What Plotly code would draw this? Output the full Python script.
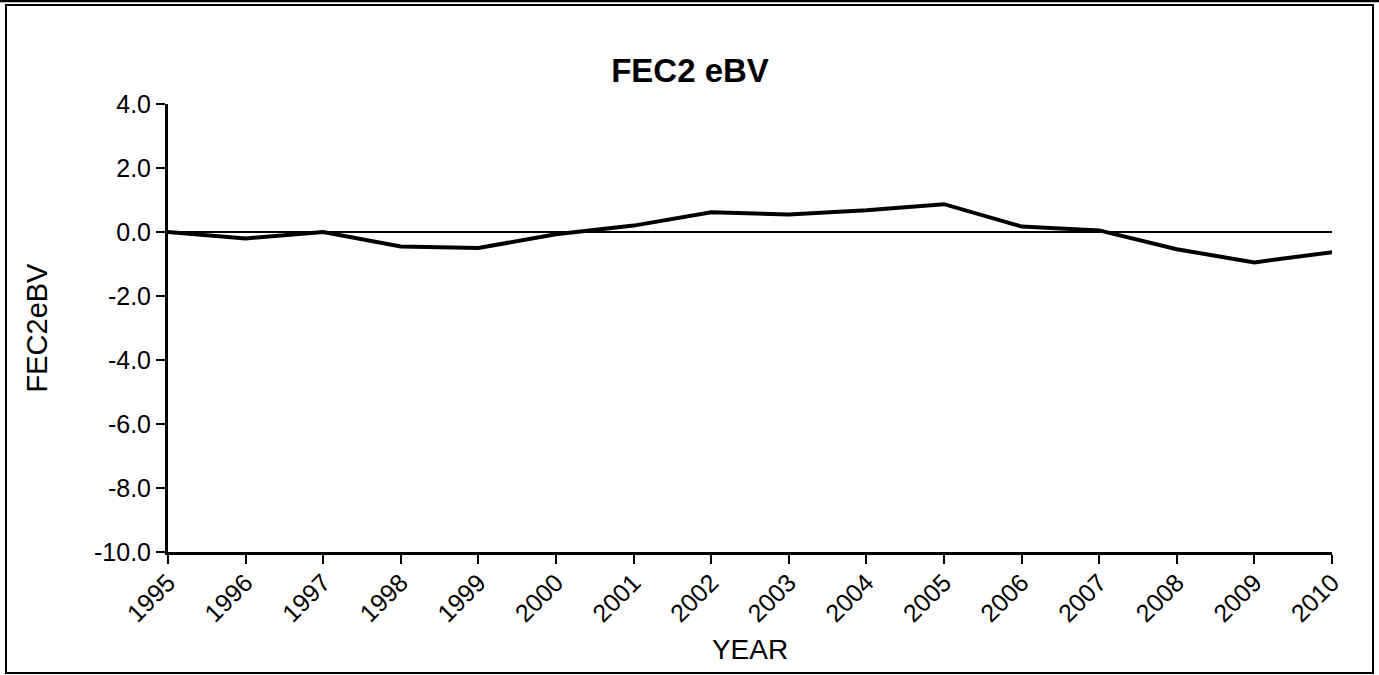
import plotly.graph_objects as go

years = [1995, 1996, 1997, 1998, 1999, 2000, 2001, 2002, 2003, 2004, 2005, 2006, 2007, 2008, 2009, 2010]
fec2_ebv = [0.0, -0.2, 0.0, -0.45, -0.5, -0.07, 0.2, 0.62, 0.55, 0.68, 0.87, 0.17, 0.05, -0.54, -0.95, -0.63]
y_ticks = [4.0, 2.0, 0.0, -2.0, -4.0, -6.0, -8.0, -10.0]

W, H = 1379, 675
L, R, T, B = 168, 47, 104, 123
pw, ph = W - L - R, H - T - B

def px(x):
    return (x - L) / pw

def py(y):
    return 1 - (y - T) / ph

font = "Liberation Sans, Arial, sans-serif"

fig = go.Figure()
fig.add_trace(go.Scatter(
    x=years, y=fec2_ebv, mode="lines",
    line=dict(color="black", width=4), showlegend=False,
))

fig.update_layout(
    width=W, height=H,
    margin=dict(l=L, r=R, t=T, b=B, autoexpand=False),
    paper_bgcolor="white", plot_bgcolor="white",
    font=dict(family=font, color="black", size=25),
    title=dict(text="<b>FEC2 eBV</b>", x=690 / W, xanchor="center",
               y=1 - 70 / H, yanchor="middle", font=dict(size=33)),
    xaxis=dict(
        range=[1995, 2010], tickmode="array", tickvals=years,
        ticktext=[str(y) for y in years], tickangle=-45,
        showgrid=False, zeroline=False, showline=True, linecolor="black",
        linewidth=3, ticks="outside", ticklen=9, tickwidth=1.5, tickcolor="black",
        title=dict(text="YEAR", standoff=14, font=dict(size=28)),
        tickfont=dict(size=25), automargin=False, ticklabelstandoff=-6,
    ),
    yaxis=dict(
        range=[-10, 4], tickmode="array", tickvals=y_ticks,
        ticktext=[f"{v:.1f}" for v in y_ticks],
        showgrid=False, zeroline=True, zerolinecolor="black", zerolinewidth=1.5,
        showline=True, linecolor="black", linewidth=3,
        ticks="outside", ticklen=9, tickwidth=1.5, tickcolor="black",
        title=dict(text="FEC2eBV", standoff=38, font=dict(size=29)),
        tickfont=dict(size=25), automargin=False,
    ),
    shapes=[
        dict(type="line", xref="paper", yref="paper", x0=px(0), x1=px(W), y0=py(1), y1=py(1),
             line=dict(color="black", width=2.5)),
        dict(type="rect", xref="paper", yref="paper", x0=px(6), x1=px(1373), y0=py(5), y1=py(673),
             line=dict(color="black", width=2), fillcolor="rgba(0,0,0,0)"),
    ],
)

fig.write_html(
    "out.html",
    config={"displayModeBar": False},
    post_script="document.body.style.margin='0';document.body.style.overflow='hidden';",
)
